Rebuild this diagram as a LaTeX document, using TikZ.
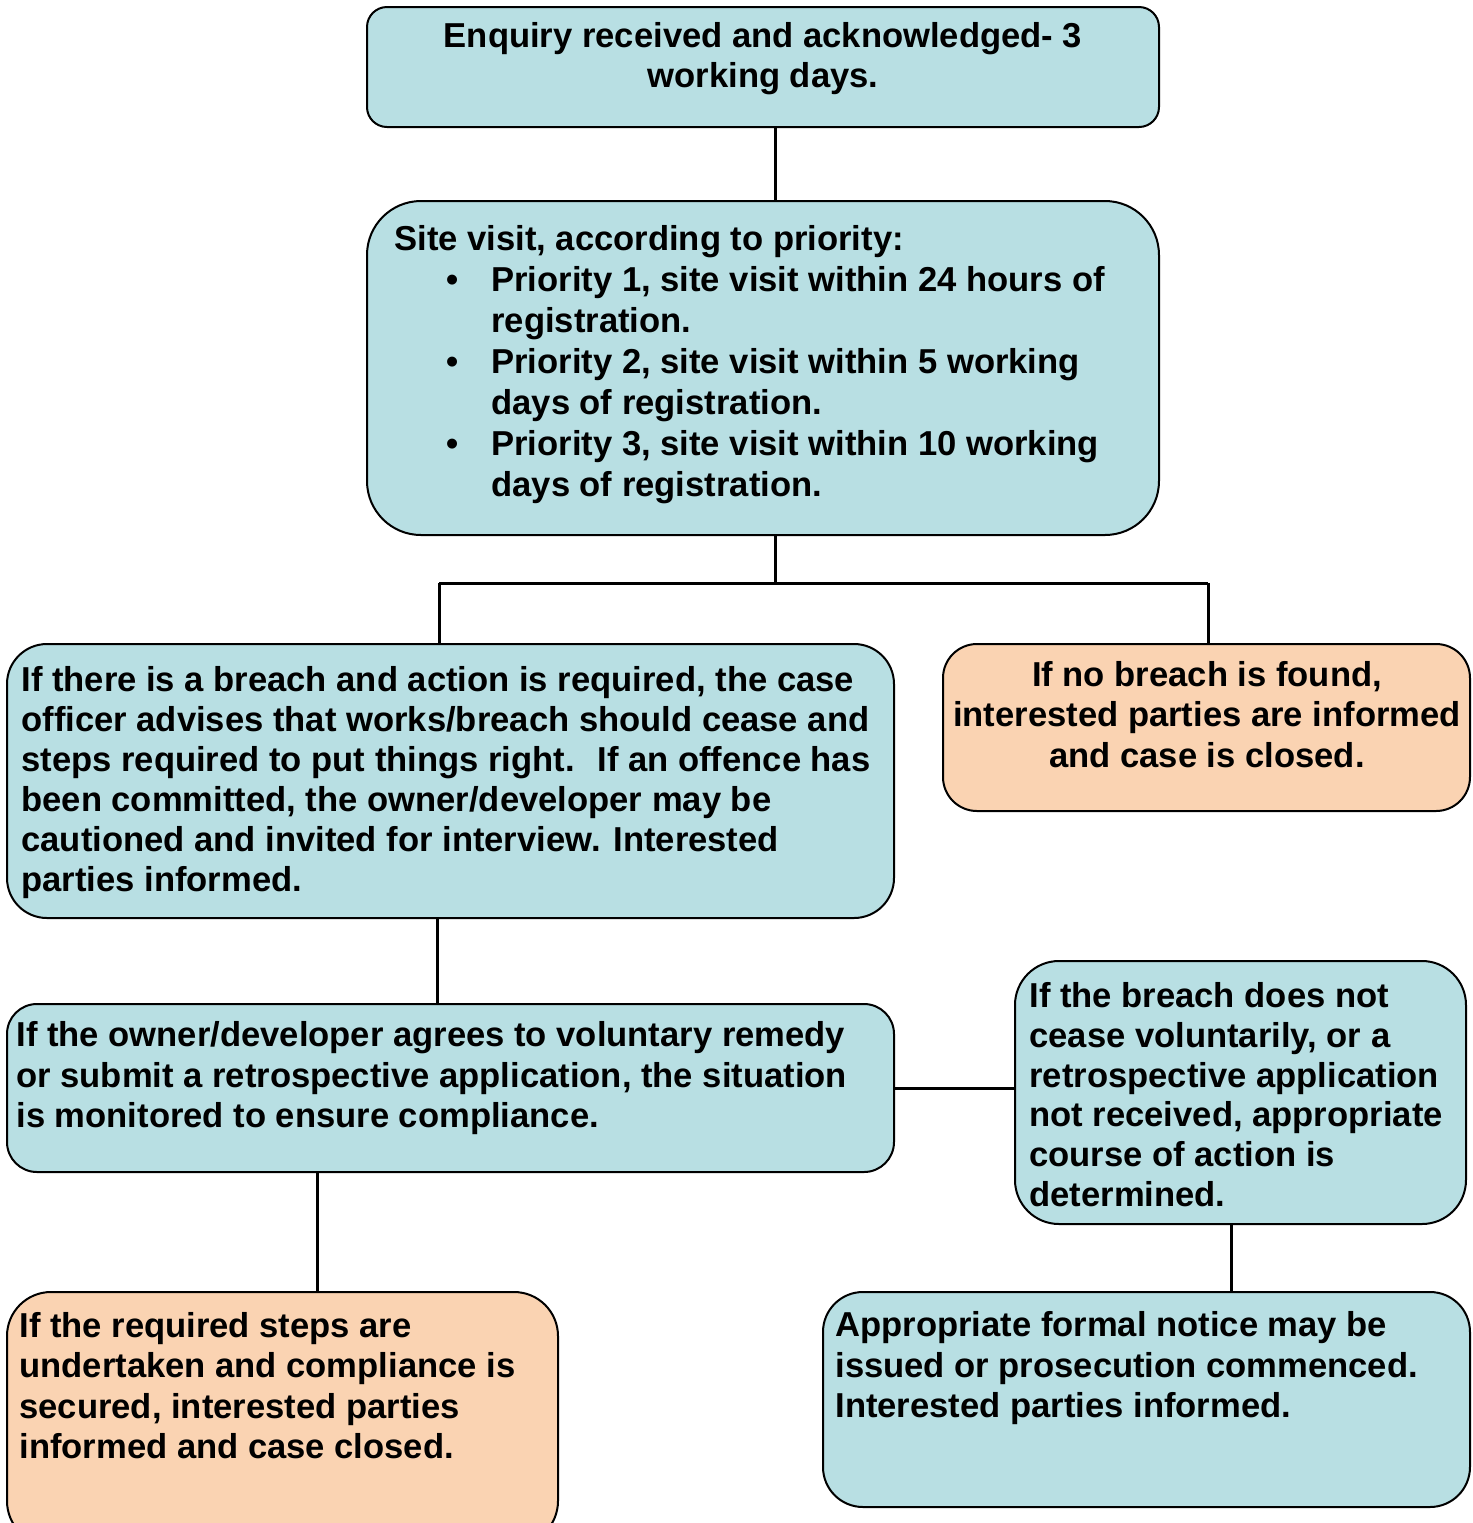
\documentclass[tikz,border=0pt]{standalone}
\usepackage{fontspec}
\setmainfont{Liberation Sans}
\usetikzlibrary{calc}
\definecolor{boxblue}{RGB}{184,223,227}
\definecolor{boxpeach}{RGB}{250,211,178}
\tikzset{
  box/.style={draw=black, line width=1pt, inner sep=0pt},
  bluebox/.style={box, fill=boxblue},
  peachbox/.style={box, fill=boxpeach},
  txt/.style={inner sep=0pt, font=\fontsize{17.3}{20}\selectfont\bfseries},
  conn/.style={draw=black, line width=1.5pt},
}
\newcommand{\fst}{\rule{0pt}{15pt}}
\newcommand{\bul}{\hspace*{26pt}\makebox[22.5pt][l]{\textbullet}}
\begin{document}
\begin{tikzpicture}[x=0.5pt, y=-0.5pt]
\useasboundingbox (0,0) rectangle (1473,1523);
\begin{scope}
\clip (0,0) rectangle (1473,1523);
% boxes
\node[bluebox, minimum width=396pt, minimum height=60pt, rounded corners=10pt] (b1) at (763,67) {};
\node[bluebox, minimum width=396pt, minimum height=167pt, rounded corners=27pt] (b2) at (763,368) {};
\node[bluebox, minimum width=443.5pt, minimum height=137pt, rounded corners=20pt] (b3) at (450.5,781) {};
\node[peachbox, minimum width=263.5pt, minimum height=83.5pt, rounded corners=17pt] (b4) at (1206.5,727.5) {};
\node[bluebox, minimum width=443.5pt, minimum height=84pt, rounded corners=15pt] (b5) at (450.5,1088) {};
\node[bluebox, minimum width=225.5pt, minimum height=131.5pt, rounded corners=22pt] (b6) at (1240.5,1092.5) {};
\node[peachbox, minimum width=275.5pt, minimum height=126.5pt, rounded corners=22pt] (b7) at (282.5,1418.5) {};
\node[bluebox, minimum width=323.5pt, minimum height=107.5pt, rounded corners=20pt] (b8) at (1146.5,1399.5) {};

% texts
\node[txt, anchor=north, align=center] (t1) at (763,17) {\fst Enquiry received and acknowledged- 3\\working days.};
\node[txt, anchor=north west, align=left, font=\fontsize{17.3}{20.5}\selectfont\bfseries] (t2) at (394,220) {\fst Site visit, according to priority:\\
\bul Priority 1, site visit within 24 hours of\\
\hspace*{48.5pt}registration.\\
\bul Priority 2, site visit within 5 working\\
\hspace*{48.5pt}days of registration.\\
\bul Priority 3, site visit within 10 working\\
\hspace*{48.5pt}days of registration.};
\node[txt, anchor=north west, align=left] (t3) at (21,661) {\fst If there is a breach and action is required, the case\\
officer advises that works/breach should cease and\\
steps required to put things right.~ If an offence has\\
been committed, the owner/developer may be\\
cautioned and invited for interview. Interested\\
parties informed.};
\node[txt, anchor=north, align=center, font=\fontsize{17.3}{20.2}\selectfont\bfseries] (t4) at (1207,656) {\fst If no breach is found,\\interested parties are informed\\and case is closed.};
\node[txt, anchor=north west, align=left, font=\fontsize{17.3}{20.3}\selectfont\bfseries] (t5) at (16,1016) {\fst If the owner/developer agrees to voluntary remedy\\
or submit a retrospective application, the situation\\
is monitored to ensure compliance.};
\node[txt, anchor=north west, align=left, font=\fontsize{17.3}{19.9}\selectfont\bfseries] (t6) at (1029,977) {\fst If the breach does not\\
cease voluntarily, or a\\
retrospective application\\
not received, appropriate\\
course of action is\\
determined.};
\node[txt, anchor=north west, align=left, font=\fontsize{17.3}{20.2}\selectfont\bfseries] (t7) at (19,1307) {\fst If the required steps are\\
undertaken and compliance is\\
secured, interested parties\\
informed and case closed.};
\node[txt, anchor=north west, align=left, font=\fontsize{17.3}{20.3}\selectfont\bfseries] (t8) at (835,1306) {\fst Appropriate formal notice may be\\
issued or prosecution commenced.\\
Interested parties informed.};

% connectors
\coordinate (jL) at (439,583);
\coordinate (jM) at (775,583);
\coordinate (jR) at (1208,583);
\draw[conn] ([xshift=6pt]b1.south) -- ([xshift=6pt]b2.north);
\draw[conn] ([xshift=6pt]b2.south) -- (jM);
\draw[conn] (jL) -- (jR);
\draw[conn] (jL) -- (jL |- b3.north);
\draw[conn] (jR) -- (jR |- b4.north);
\draw[conn] ([xshift=-6.75pt]b3.south) -- ([xshift=-6.75pt]b5.north);
\draw[conn] (b5.east) -- (b5.east -| b6.west);
\draw[conn] ([xshift=-66.75pt]b5.south) -- ([xshift=-66.75pt]b5.south |- b7.north);
\draw[conn] ([xshift=-4.75pt]b6.south) -- ([xshift=-4.75pt]b6.south |- b8.north);
\end{scope}
\end{tikzpicture}
\end{document}
